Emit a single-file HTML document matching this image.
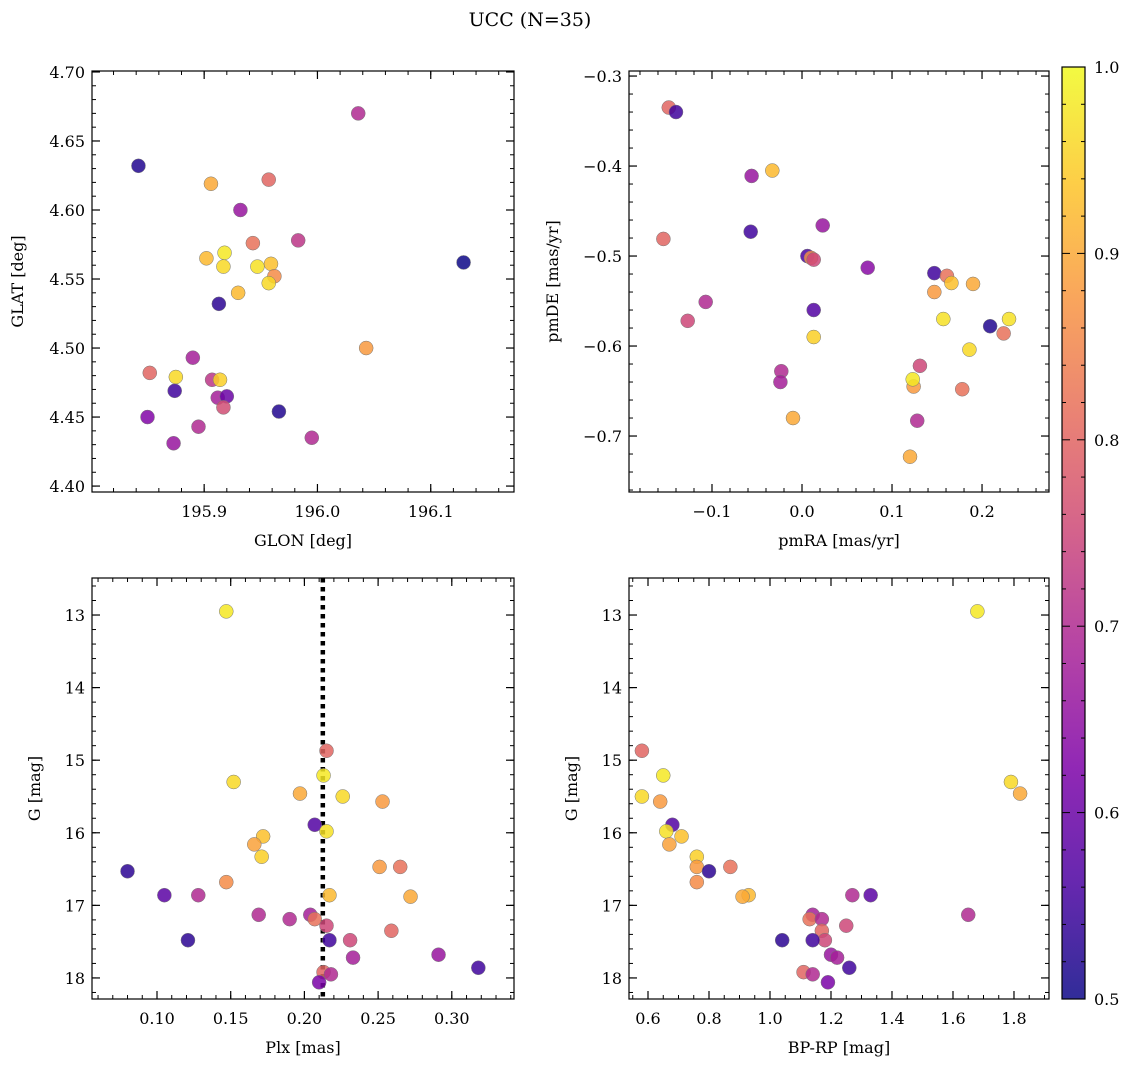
<!DOCTYPE html>
<html><head><meta charset="utf-8"><style>
body{margin:0;background:#fff;}
svg text{font-family:"DejaVu Serif","Liberation Serif",serif;fill:#000;}
</style></head><body>
<svg id="fig" width="1136" height="1067" xmlns="http://www.w3.org/2000/svg">
<defs><linearGradient id="cmap" x1="0" y1="1" x2="0" y2="0">
<stop offset="0" stop-color="#0d0887"/><stop offset="0.125" stop-color="#4c02a1"/><stop offset="0.25" stop-color="#7e03a8"/><stop offset="0.375" stop-color="#a82296"/><stop offset="0.5" stop-color="#cc4778"/><stop offset="0.625" stop-color="#e66c5c"/><stop offset="0.75" stop-color="#f89540"/><stop offset="0.875" stop-color="#fdc527"/><stop offset="1" stop-color="#f0f921"/>
</linearGradient></defs>
<text x="530" y="26" text-anchor="middle" font-size="19">UCC (N=35)</text>
</svg>
<script>
// Panel 1: GLON / GLAT
const p1x=[195.842,195.906,195.932,195.957,196.036,195.983,195.943,195.918,195.902,195.917,195.947,195.959,195.962,195.957,195.930,195.913,196.129,196.043,195.852,195.890,195.875,195.874,195.907,195.914,195.912,195.920,195.917,195.850,195.966,195.895,195.873,195.995];
const p1y=[4.632,4.619,4.600,4.622,4.670,4.578,4.576,4.569,4.565,4.559,4.559,4.561,4.552,4.547,4.540,4.532,4.562,4.500,4.482,4.493,4.479,4.469,4.477,4.477,4.464,4.465,4.457,4.450,4.454,4.443,4.431,4.435];
const p1c=[0.52,0.9,0.66,0.8,0.7,0.72,0.82,0.98,0.92,0.96,0.97,0.93,0.86,0.96,0.92,0.53,0.5,0.88,0.8,0.68,0.96,0.55,0.72,0.95,0.68,0.6,0.76,0.63,0.52,0.7,0.66,0.7];
// Panel 2: pmRA / pmDE
const p2x=[-0.148,-0.140,-0.056,-0.033,-0.154,-0.057,0.023,0.006,0.010,0.013,0.073,0.147,0.161,0.166,0.190,0.147,-0.107,-0.127,0.157,0.230,0.209,0.224,0.013,0.013,0.186,-0.023,-0.024,0.131,0.124,0.123,0.178,-0.010,0.128,0.120];
const p2y=[-0.335,-0.340,-0.411,-0.405,-0.481,-0.473,-0.466,-0.500,-0.502,-0.504,-0.513,-0.519,-0.522,-0.530,-0.531,-0.540,-0.551,-0.572,-0.570,-0.570,-0.578,-0.586,-0.560,-0.590,-0.604,-0.628,-0.640,-0.622,-0.645,-0.637,-0.648,-0.680,-0.683,-0.723];
const p2c=[0.8,0.55,0.66,0.92,0.8,0.55,0.66,0.56,0.86,0.75,0.64,0.55,0.82,0.93,0.9,0.88,0.7,0.75,0.97,0.97,0.52,0.82,0.57,0.95,0.96,0.7,0.68,0.75,0.88,0.98,0.82,0.9,0.7,0.9];
// Panel 3/4: Plx, BP-RP, G
const gmag=[12.95,14.87,15.21,15.50,15.57,15.30,15.46,15.89,15.98,16.05,16.16,16.33,16.47,16.47,16.53,16.68,16.86,16.88,16.86,16.86,17.13,17.13,17.19,17.19,17.28,17.35,17.48,17.48,17.48,17.68,17.72,17.86,17.92,17.95,18.06];
const plx=[0.147,0.215,0.213,0.226,0.253,0.152,0.197,0.207,0.215,0.172,0.166,0.171,0.251,0.265,0.080,0.147,0.217,0.272,0.128,0.105,0.169,0.204,0.207,0.190,0.215,0.259,0.231,0.121,0.217,0.291,0.233,0.318,0.213,0.218,0.210];
const bprp=[1.68,0.58,0.65,0.58,0.64,1.79,1.82,0.68,0.66,0.71,0.67,0.76,0.76,0.87,0.80,0.76,0.93,0.91,1.27,1.33,1.65,1.14,1.13,1.17,1.25,1.17,1.18,1.04,1.14,1.20,1.22,1.26,1.11,1.14,1.19];
const prob=[0.98,0.8,0.98,0.96,0.88,0.96,0.9,0.57,0.97,0.93,0.89,0.95,0.88,0.82,0.53,0.86,0.92,0.9,0.7,0.58,0.7,0.68,0.82,0.7,0.75,0.8,0.75,0.53,0.55,0.66,0.68,0.55,0.8,0.7,0.62];
const plxLine=0.2125;

const NS='http://www.w3.org/2000/svg';
const svg=document.getElementById('fig');
function mk(t,a,p){const e=document.createElementNS(NS,t);for(const k in a)e.setAttribute(k,a[k]);(p||svg).appendChild(e);return e;}
const stops=[[0,[13,8,135]],[0.125,[76,2,161]],[0.25,[126,3,168]],[0.375,[168,34,150]],[0.5,[204,71,120]],[0.625,[230,108,92]],[0.75,[248,149,64]],[0.875,[253,197,39]],[1,[240,249,33]]];
function cmap(v){let t=Math.max(0,Math.min(1,(v-0.5)/0.5));for(let i=1;i<stops.length;i++){if(t<=stops[i][0]){const a=stops[i-1],b=stops[i],f=(t-a[0])/(b[0]-a[0]);const c=a[1].map((x,j)=>Math.round(x+(b[1][j]-x)*f));return `rgb(${c})`;}}return 'rgb(240,249,33)';}
function fmt(v,d){return v.toFixed(d).replace('-','−');}
function panel(o){
  const g=mk('g',{});
  
  
  const sx=v=>o.L+(v-o.xl[0])/(o.xl[1]-o.xl[0])*(o.R-o.L);
  const sy=v=>o.B-(v-o.yl[0])/(o.yl[1]-o.yl[0])*(o.B-o.T);
  const eps=1e-9;
  function ticks(lo,hi,st){const a=[];const a0=Math.ceil(Math.min(lo,hi)/st-eps);for(let k=a0;k*st<=Math.max(lo,hi)+eps;k++)a.push(k*st);return a;}
  ticks(o.xl[0],o.xl[1],o.xmin).forEach(v=>{const x=sx(v);mk('line',{x1:x,x2:x,y1:o.B,y2:o.B-4,stroke:'#000','stroke-width':1},g);mk('line',{x1:x,x2:x,y1:o.T,y2:o.T+4,stroke:'#000','stroke-width':1},g);});
  ticks(o.yl[0],o.yl[1],o.ymin).forEach(v=>{const y=sy(v);mk('line',{x1:o.L,x2:o.L+4,y1:y,y2:y,stroke:'#000','stroke-width':1},g);mk('line',{x1:o.R,x2:o.R-4,y1:y,y2:y,stroke:'#000','stroke-width':1},g);});
  ticks(o.xl[0],o.xl[1],o.xmaj).forEach(v=>{const x=sx(v);mk('line',{x1:x,x2:x,y1:o.B,y2:o.B-8,stroke:'#000','stroke-width':1.2},g);mk('line',{x1:x,x2:x,y1:o.T,y2:o.T+8,stroke:'#000','stroke-width':1.2},g);
    const t=mk('text',{x:x,y:o.B+25,'text-anchor':'middle','font-size':16},g);t.textContent=fmt(v,o.xd);
    
    });
  ticks(o.yl[0],o.yl[1],o.ymaj).forEach(v=>{const y=sy(v);mk('line',{x1:o.L,x2:o.L+8,y1:y,y2:y,stroke:'#000','stroke-width':1.2},g);mk('line',{x1:o.R,x2:o.R-8,y1:y,y2:y,stroke:'#000','stroke-width':1.2},g);
    const t=mk('text',{x:o.L-7,y:y+6,'text-anchor':'end','font-size':16},g);t.textContent=fmt(v,o.yd);
    
    });
  if(o.vline!==undefined){const l=mk('line',{x1:sx(o.vline),x2:sx(o.vline),y1:o.T,y2:o.B,stroke:'#000','stroke-width':4.5,'stroke-dasharray':'4.5,4.5'},g);
    
    }
  o.xs.forEach((v,i)=>{const c=mk('circle',{cx:sx(v),cy:sy(o.ys[i]),r:7,fill:cmap(o.cs[i]),'fill-opacity':0.85,stroke:'#777','stroke-width':0.5},g);
    
    });
  mk('rect',{x:o.L,y:o.T,width:o.R-o.L,height:o.B-o.T,fill:'none',stroke:'#000','stroke-width':1.2},g);
  const xl=mk('text',{x:(o.L+o.R)/2,y:o.B+54,'text-anchor':'middle','font-size':16},g);xl.textContent=o.xlab;
  
  
  const yx=o.ylx,yc=(o.T+o.B)/2;
  const yl=mk('text',{x:yx,y:yc,'text-anchor':'middle','font-size':16,transform:`rotate(-90 ${yx} ${yc})`},g);yl.textContent=o.ylab;
  
  
}
panel({name:'glon-glat-panel',L:92,R:514,T:71,B:492,xl:[195.801,196.1735],yl:[4.3957,4.7007],xmaj:0.1,xmin:0.02,ymaj:0.05,ymin:0.01,xd:1,yd:2,xs:p1x,ys:p1y,cs:p1c,xlab:'GLON [deg]',ylab:'GLAT [deg]',ylx:23});
panel({name:'proper-motion-panel',L:629,R:1049,T:71,B:492,xl:[-0.1922,0.2744],yl:[-0.7622,-0.2944],xmaj:0.1,xmin:0.02,ymaj:0.1,ymin:0.02,xd:1,yd:1,xs:p2x,ys:p2y,cs:p2c,xlab:'pmRA [mas/yr]',ylab:'pmDE [mas/yr]',ylx:558});
panel({name:'plx-g-panel',L:92,R:514,T:578,B:999,xl:[0.0559,0.3422],yl:[18.29,12.49],xmaj:0.05,xmin:0.01,ymaj:1,ymin:0.2,xd:2,yd:0,xs:plx,ys:gmag,cs:prob,xlab:'Plx [mas]',ylab:'G [mag]',ylx:40,vline:plxLine});
panel({name:'cmd-panel',L:629,R:1049,T:578,B:999,xl:[0.5377,1.9148],yl:[18.29,12.49],xmaj:0.2,xmin:0.05,ymaj:1,ymin:0.2,xd:1,yd:0,xs:bprp,ys:gmag,cs:prob,xlab:'BP-RP [mag]',ylab:'G [mag]',ylx:577});
// colorbar
const cb=mk('g',{});


mk('rect',{x:1062,y:67,width:23,height:932,fill:'url(#cmap)','fill-opacity':0.85,stroke:'#000','stroke-width':1.2},cb);
for(let k=0;k<=25;k++){const v=0.5+k*0.02,y=999-(v-0.5)/0.5*932;const maj=k%5===0;
  mk('line',{x1:1085,x2:1085-(maj?8:4),y1:y,y2:y,stroke:'#000','stroke-width':1},cb);
  mk('line',{x1:1062,x2:1062+(maj?8:4),y1:y,y2:y,stroke:'#000','stroke-width':1},cb);
  if(maj){const t=mk('text',{x:1094,y:y+6,'font-size':16},cb);t.textContent=v.toFixed(1);
    
    }}
</script>
</body></html>
